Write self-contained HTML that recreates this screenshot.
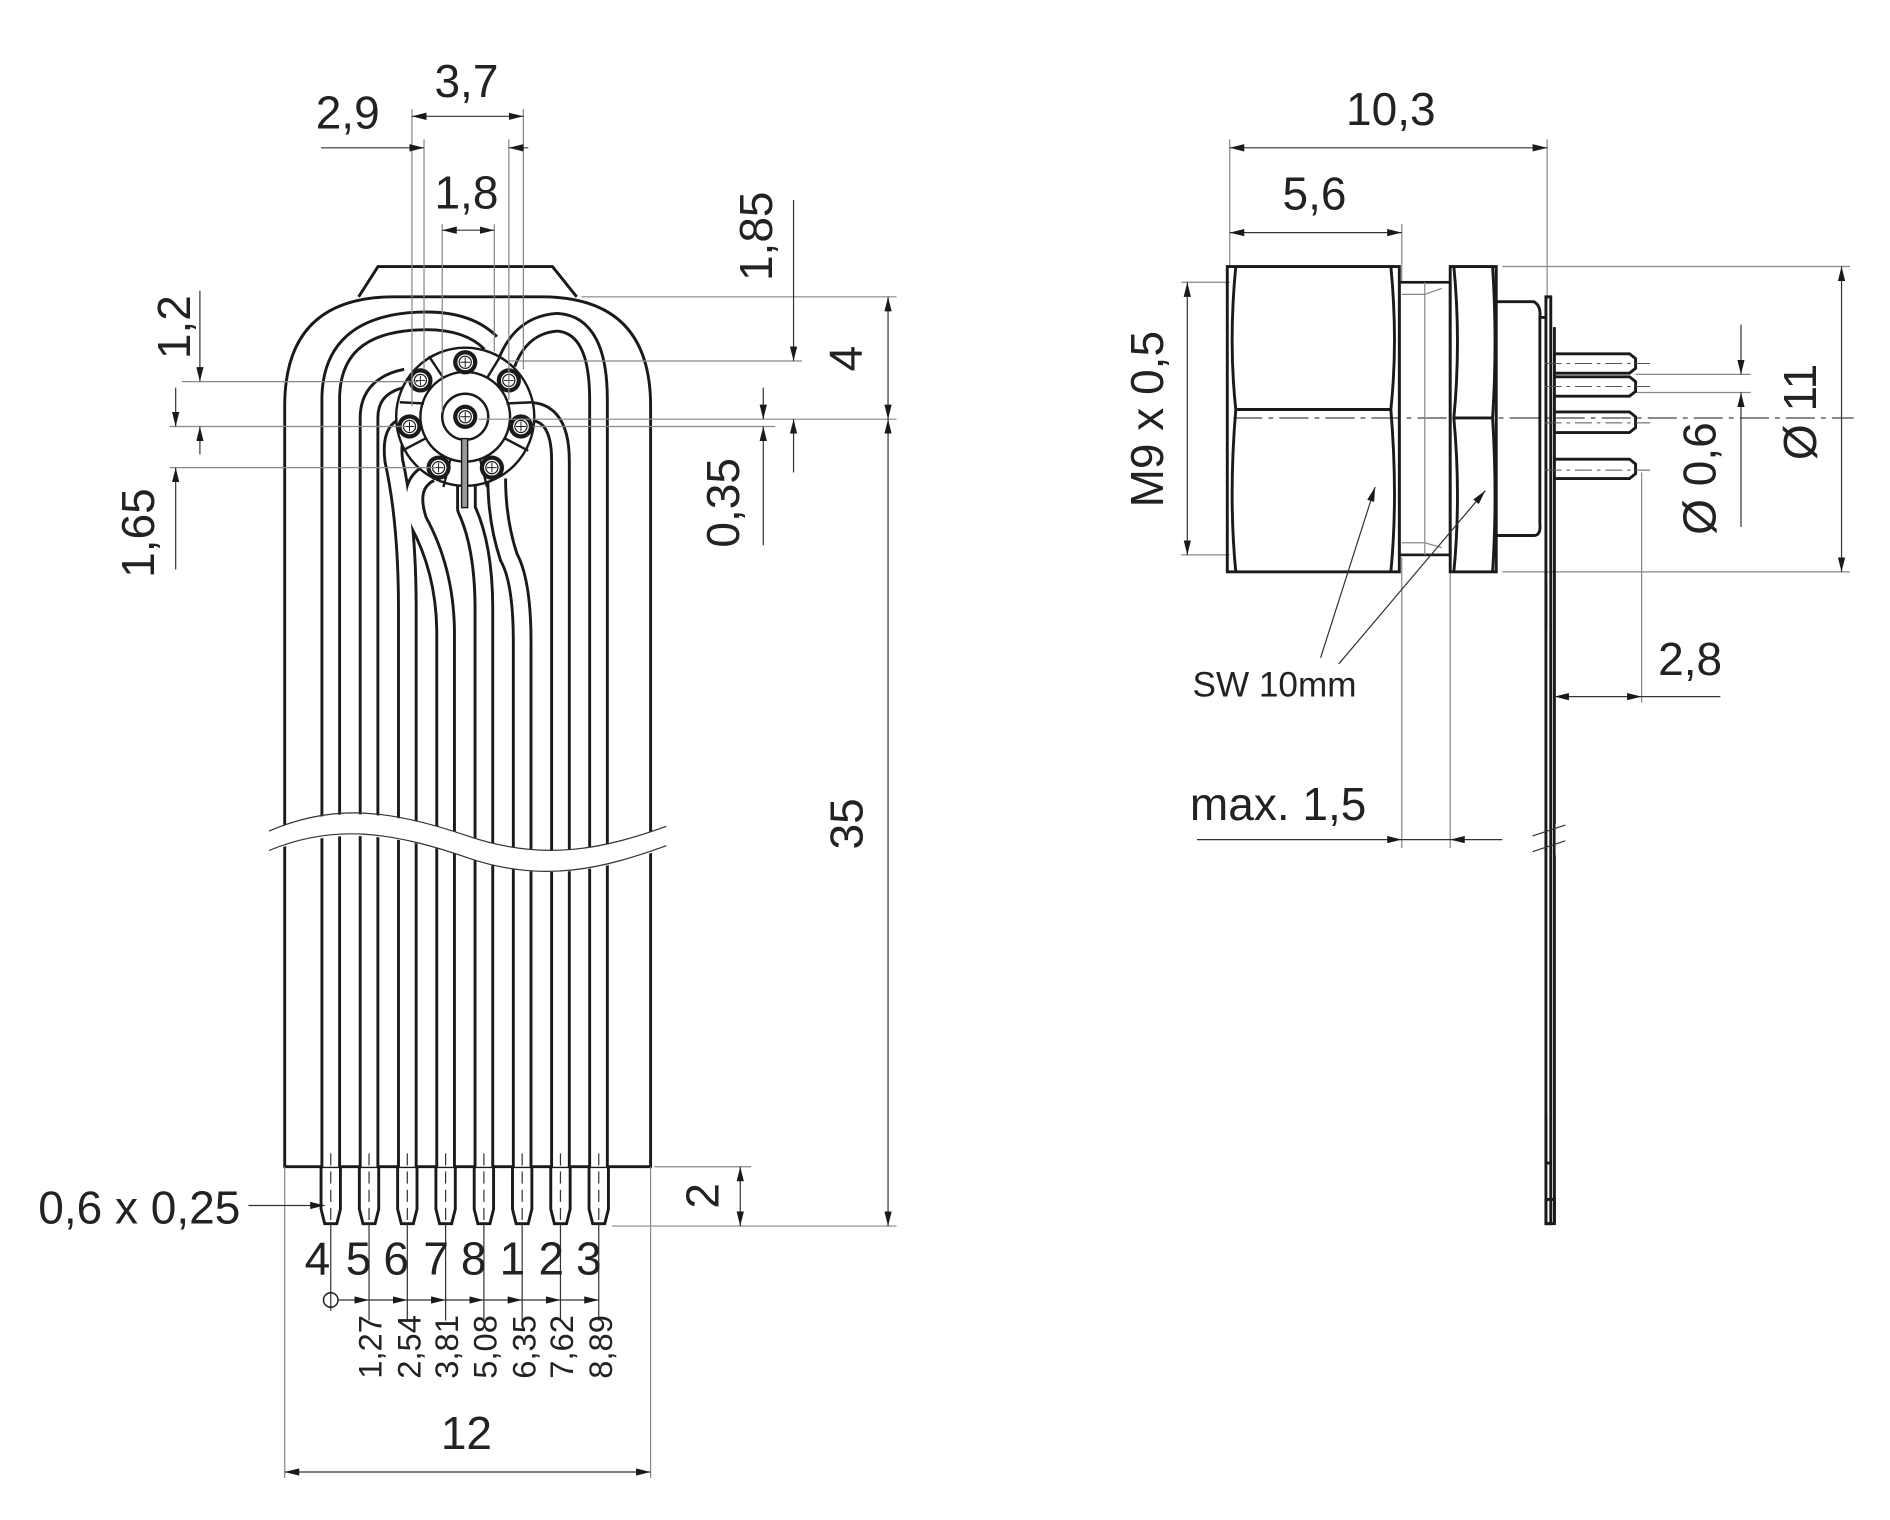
<!DOCTYPE html>
<html><head><meta charset="utf-8"><style>
html,body{margin:0;padding:0;background:#fff;}
svg{display:block;}
text{font-family:"Liberation Sans Narrow","Liberation Sans",sans-serif;fill:#222;}
.t{font-size:38px;}
.s{font-size:27px;}
.d{stroke:#333;stroke-width:1;fill:none;}
.o{stroke:#1a1a1a;stroke-width:2.4;fill:none;}
.g{stroke:#888;stroke-width:1;fill:none;}
</style></head><body>
<svg width="1890" height="1520" viewBox="0 0 1560 1254.6" preserveAspectRatio="none" xmlns="http://www.w3.org/2000/svg">
<defs>
<marker id="a" viewBox="0 0 12 6" refX="12" refY="3" markerWidth="12" markerHeight="6" markerUnits="userSpaceOnUse" orient="auto-start-reverse"><path d="M0,0 L12,3 L0,6 z" fill="#1a1a1a"/></marker>
<g id="pad"><circle r="10" fill="#1a1a1a"/><circle r="6.5" fill="#fff"/><circle r="5" fill="none" stroke="#1a1a1a" stroke-width="1"/><path d="M-4,0H4M0,-4V4" stroke="#1a1a1a" stroke-width="0.8"/></g>
</defs>
<rect width="1560" height="1255" fill="#fff"/>

<!-- LEFT VIEW body -->
<path class="o" d="M296,245 L312,220 H456 L476,245"/>
<path class="o" d="M235,963 V335 Q235,245 325,245 H447 Q537,245 537,335 V963 Z" fill="#fff"/>

<!-- traces: black wide then white narrow -->
<g fill="none" stroke-linejoin="round">
<g stroke="#1a1a1a" stroke-width="17">
<path d="M273,963 V330 Q273,268 345,265 Q385,263 405,283"/>
<path d="M494,963 V330 Q494,268 460,266 Q430,268 418,300"/>
<path d="M304.6,963 V345 Q304.6,318 335,312"/>
<path d="M462.6,963 V380 Q462.6,335 430,340"/>
<path d="M336.2,963 V500 Q336,430 325,380 Q322,355 335,352"/>
<path d="M367.8,963 V520 Q367,470 345,430 Q335,400 355,390"/>
<path d="M399.4,963 V500 Q399,450 385,420 V360"/>
<path d="M431,963 V530 Q431,480 420,460 Q410,430 410,395"/>
</g>
<g stroke="#fff" stroke-width="12.2">
<path d="M273,963 V330 Q273,268 345,265 Q385,263 405,283"/>
<path d="M494,963 V330 Q494,268 460,266 Q430,268 418,300"/>
<path d="M304.6,963 V345 Q304.6,318 335,312"/>
<path d="M462.6,963 V380 Q462.6,335 430,340"/>
<path d="M336.2,963 V500 Q336,430 325,380 Q322,355 335,352"/>
<path d="M367.8,963 V520 Q367,470 345,430 Q335,400 355,390"/>
<path d="M399.4,963 V500 Q399,450 385,420 V360"/>
<path d="M431,963 V530 Q431,480 420,460 Q410,430 410,395"/>
</g>
</g>
<!-- pad fan -->
<circle cx="384" cy="344" r="57" fill="#fff" stroke="#1a1a1a" stroke-width="2"/>
<circle cx="384" cy="344" r="37" fill="none" stroke="#1a1a1a" stroke-width="2"/>
<circle cx="384" cy="344" r="19" fill="none" stroke="#1a1a1a" stroke-width="2"/>
<g stroke="#1a1a1a" stroke-width="2">
<path d="M366,312 L354,294"/><path d="M402,312 L413,294"/>
<path d="M350,333 L330,332"/><path d="M418,333 L440,332"/>
<path d="M351,362 L332,372"/><path d="M417,362 L436,372"/>
<path d="M372,378 L366,402"/><path d="M396,378 L402,402"/>
</g>
<rect x="381" y="362" width="5" height="57" fill="#999" stroke="#1a1a1a" stroke-width="1.2"/>
<use href="#pad" x="384" y="299"/><use href="#pad" x="347" y="314"/><use href="#pad" x="420" y="314"/>
<use href="#pad" x="338" y="352"/><use href="#pad" x="430" y="352"/><use href="#pad" x="362" y="386"/>
<use href="#pad" x="406" y="386"/><use href="#pad" x="384" y="344"/>

<!-- break -->
<path d="M215,688 C270,665 320,668 386,690 C450,712 500,700 555,680 L555,698 C500,718 450,730 386,708 C320,686 270,683 215,706 Z" fill="#fff"/>
<path class="d" stroke-width="1.5" d="M222,686 C275,663 322,668 386,690 C450,712 500,700 550,682"/>
<path class="d" stroke-width="1.5" d="M222,702 C275,680 322,686 386,708 C450,730 500,716 550,698"/>

<!-- pins -->
<g class="o" stroke-width="2.2">
<path d="M265,963 V998 L268,1010 H278 L281,998 V963"/>
<path d="M296.6,963 V998 L299.6,1010 H309.6 L312.6,998 V963"/>
<path d="M328.2,963 V998 L331.2,1010 H341.2 L344.2,998 V963"/>
<path d="M359.8,963 V998 L362.8,1010 H372.8 L375.8,998 V963"/>
<path d="M391.4,963 V998 L394.4,1010 H404.4 L407.4,998 V963"/>
<path d="M423,963 V998 L426,1010 H436 L439,998 V963"/>
<path d="M454.6,963 V998 L457.6,1010 H467.6 L470.6,998 V963"/>
<path d="M486.2,963 V998 L489.2,1010 H499.2 L502.2,998 V963"/>
</g>
<g class="d" stroke-dasharray="10,5">
<path d="M273,952V1010M304.6,952V1010M336.2,952V1010M367.8,952V1010M399.4,952V1010M431,952V1010M462.6,952V1010M494.2,952V1010"/>
</g>
<g class="d">
<path d="M273,1010V1082M304.6,1010V1090M336.2,1010V1090M367.8,1010V1090M399.4,1010V1090M431,1010V1090M462.6,1010V1090M494.2,1010V1090"/>
</g>
<circle cx="273" cy="1073" r="6" fill="none" stroke="#1a1a1a" stroke-width="1.2"/>
<g class="d" marker-end="url(#a)">
<path d="M279,1073H304.6"/><path d="M304.6,1073H336.2"/><path d="M336.2,1073H367.8"/><path d="M367.8,1073H399.4"/><path d="M399.4,1073H431"/><path d="M431,1073H462.6"/><path d="M462.6,1073H494.2"/>
</g>
<g class="t" font-size="32">
<text x="262" y="1052" text-anchor="middle" class="t">4</text>
<text x="296" y="1052" text-anchor="middle" class="t">5</text>
<text x="327" y="1052" text-anchor="middle" class="t">6</text>
<text x="360" y="1052" text-anchor="middle" class="t">7</text>
<text x="391" y="1052" text-anchor="middle" class="t">8</text>
<text x="423" y="1052" text-anchor="middle" class="t">1</text>
<text x="455" y="1052" text-anchor="middle" class="t">2</text>
<text x="486" y="1052" text-anchor="middle" class="t">3</text>
</g>
<g class="s">
<text transform="translate(315,1138) rotate(-90)" class="s">1,27</text>
<text transform="translate(347,1138) rotate(-90)" class="s">2,54</text>
<text transform="translate(378,1138) rotate(-90)" class="s">3,81</text>
<text transform="translate(410,1138) rotate(-90)" class="s">5,08</text>
<text transform="translate(442,1138) rotate(-90)" class="s">6,35</text>
<text transform="translate(473,1138) rotate(-90)" class="s">7,62</text>
<text transform="translate(505,1138) rotate(-90)" class="s">8,89</text>
</g>

<!-- left dims -->
<g class="g">
<path d="M340,90V335M350,115V305M365,185V340M408,185V290M420,115V330M432,90V305"/>
<path d="M480,245H740M420,298H662M395,346H740M440,352H640"/>
<path d="M150,315H345M140,352H335M140,386H360"/>
<path d="M540,963H620M505,1012H740"/>
<path d="M235,963V1220M537,963V1220"/>
<path d="M1015,115V220M1277,115V248M1157,185V232M975,233H1015M975,458H1015M1240,220H1527M1240,472H1527M1350,309H1445M1350,324H1445M1355,390V580M1157,460V700M1197,460V700"/>
</g>
<g class="d">
<path d="M340,96H432" marker-start="url(#a)" marker-end="url(#a)"/>
<path d="M265,122H350" marker-end="url(#a)"/><path d="M420,122H436" marker-start="url(#a)"/>
<path d="M365,190H408" marker-start="url(#a)" marker-end="url(#a)"/>
<path d="M655,165V298" marker-end="url(#a)"/><path d="M655,346V390" marker-start="url(#a)"/>
<path d="M733,245V346" marker-start="url(#a)" marker-end="url(#a)"/>
<path d="M630,320V346" marker-end="url(#a)"/><path d="M630,352V450" marker-start="url(#a)"/>
<path d="M733,346V1012" marker-start="url(#a)" marker-end="url(#a)"/>
<path d="M165,240V315" marker-end="url(#a)"/><path d="M165,352V375" marker-start="url(#a)"/>
<path d="M145,320V352" marker-end="url(#a)"/><path d="M145,386V470" marker-start="url(#a)"/>
<path d="M611,963V1012" marker-start="url(#a)" marker-end="url(#a)"/>
<path d="M205,995H268" marker-end="url(#a)"/>
<path d="M235,1215H537" marker-start="url(#a)" marker-end="url(#a)"/>
</g>
<text x="385" y="80" text-anchor="middle" class="t">3,7</text>
<text x="287" y="106" text-anchor="middle" class="t">2,9</text>
<text x="385" y="172" text-anchor="middle" class="t">1,8</text>
<text transform="translate(637,195) rotate(-90)" text-anchor="middle" class="t">1,85</text>
<text transform="translate(157,270) rotate(-90)" text-anchor="middle" class="t">1,2</text>
<text transform="translate(711,296) rotate(-90)" text-anchor="middle" class="t">4</text>
<text transform="translate(127,440) rotate(-90)" text-anchor="middle" class="t">1,65</text>
<text transform="translate(610,415) rotate(-90)" text-anchor="middle" class="t">0,35</text>
<text transform="translate(712,680) rotate(-90)" text-anchor="middle" class="t">35</text>
<text transform="translate(593,987) rotate(-90)" text-anchor="middle" class="t">2</text>
<text x="115" y="1010" text-anchor="middle" class="t">0,6 x 0,25</text>
<text x="385" y="1196" text-anchor="middle" class="t">12</text>

<!-- RIGHT VIEW -->
<path d="M1018,345H1530" stroke="#444" stroke-width="1" stroke-dasharray="24,5,4,5"/>
<rect x="1013" y="220" width="142" height="252" fill="none" stroke="#1a1a1a" stroke-width="2.4"/>
<path class="o" stroke-width="1.6" d="M1020,220 Q1014,282 1020,338 Q1014,410 1020,472 M1148,220 Q1154,282 1148,338 Q1154,410 1148,472 M1020,338H1148"/>
<rect x="1155" y="233" width="42" height="225" fill="none" stroke="#1a1a1a" stroke-width="2.2"/>
<path class="g" d="M1176,233V458M1157,243H1176L1190,238M1157,448H1176L1190,452"/>
<rect x="1197" y="220" width="38" height="252" fill="none" stroke="#1a1a1a" stroke-width="2.4"/>
<path class="o" stroke-width="1.6" d="M1200,220 Q1206,282 1200,345 Q1206,410 1200,472 M1232,220 Q1236,282 1232,345 Q1236,410 1232,472 M1200,345H1232"/>
<path class="o" stroke-width="2.2" d="M1235,249H1266Q1272,252 1271,262V432Q1272,442 1266,442H1235"/>
<path class="o" stroke-width="1.6" d="M1272,262H1276V245H1280V1010H1276V262"/>
<path class="o" stroke-width="2.4" d="M1283,270V1010"/>
<path class="o" stroke-width="1.2" d="M1276,480V520M1276,920V960H1280M1276,990H1283V1010H1276Z"/>
<g class="o" stroke-width="2">
<path d="M1283,292H1345L1350,296V304L1345,308H1283"/>
<path d="M1283,311H1345L1350,315V323L1345,327H1283"/>
<path d="M1283,340H1345L1350,344V353L1345,357H1283"/>
<path d="M1283,379H1345L1350,383V391L1345,395H1283"/>
</g>
<path d="M1275,300H1362M1275,319H1362M1275,349H1362M1275,388H1362" stroke="#555" stroke-width="0.8" stroke-dasharray="14,4,3,4"/>
<!-- break marks on plate -->
<path d="M1290,680V706" stroke="#fff" stroke-width="12"/>
<path class="d" stroke-width="1.5" d="M1265,690L1292,681M1265,703L1292,694"/>

<g class="d">
<path d="M1015,122H1277" marker-start="url(#a)" marker-end="url(#a)"/>
<path d="M1015,192H1157" marker-start="url(#a)" marker-end="url(#a)"/>
<path d="M980,233V458" marker-start="url(#a)" marker-end="url(#a)"/>
<path d="M1520,220V472" marker-start="url(#a)" marker-end="url(#a)"/>
<path d="M1437,268V309" marker-end="url(#a)"/><path d="M1437,324V435" marker-start="url(#a)"/>
<path d="M1283,575H1355" marker-start="url(#a)" marker-end="url(#a)"/><path d="M1355,575H1420"/>
<path d="M988,693H1157" marker-end="url(#a)"/><path d="M1197,693H1240" marker-start="url(#a)"/><path d="M1157,693H1197"/>
<path d="M1090,543L1135,402" marker-end="url(#a)"/>
<path d="M1105,548L1226,405" marker-end="url(#a)"/>
</g>
<text x="1148" y="103" text-anchor="middle" class="t">10,3</text>
<text x="1085" y="173" text-anchor="middle" class="t">5,6</text>
<text transform="translate(960,346) rotate(-90)" text-anchor="middle" class="t">M9 x 0,5</text>
<text transform="translate(1499,340) rotate(-90)" text-anchor="middle" class="t">Ø 11</text>
<text transform="translate(1416,395) rotate(-90)" text-anchor="middle" class="t">Ø 0,6</text>
<text x="1395" y="557" text-anchor="middle" class="t">2,8</text>
<text x="1052" y="575" text-anchor="middle" style="font-size:29px">SW 10mm</text>
<text x="1055" y="677" text-anchor="middle" class="t">max. 1,5</text>
</svg>
</body></html>
